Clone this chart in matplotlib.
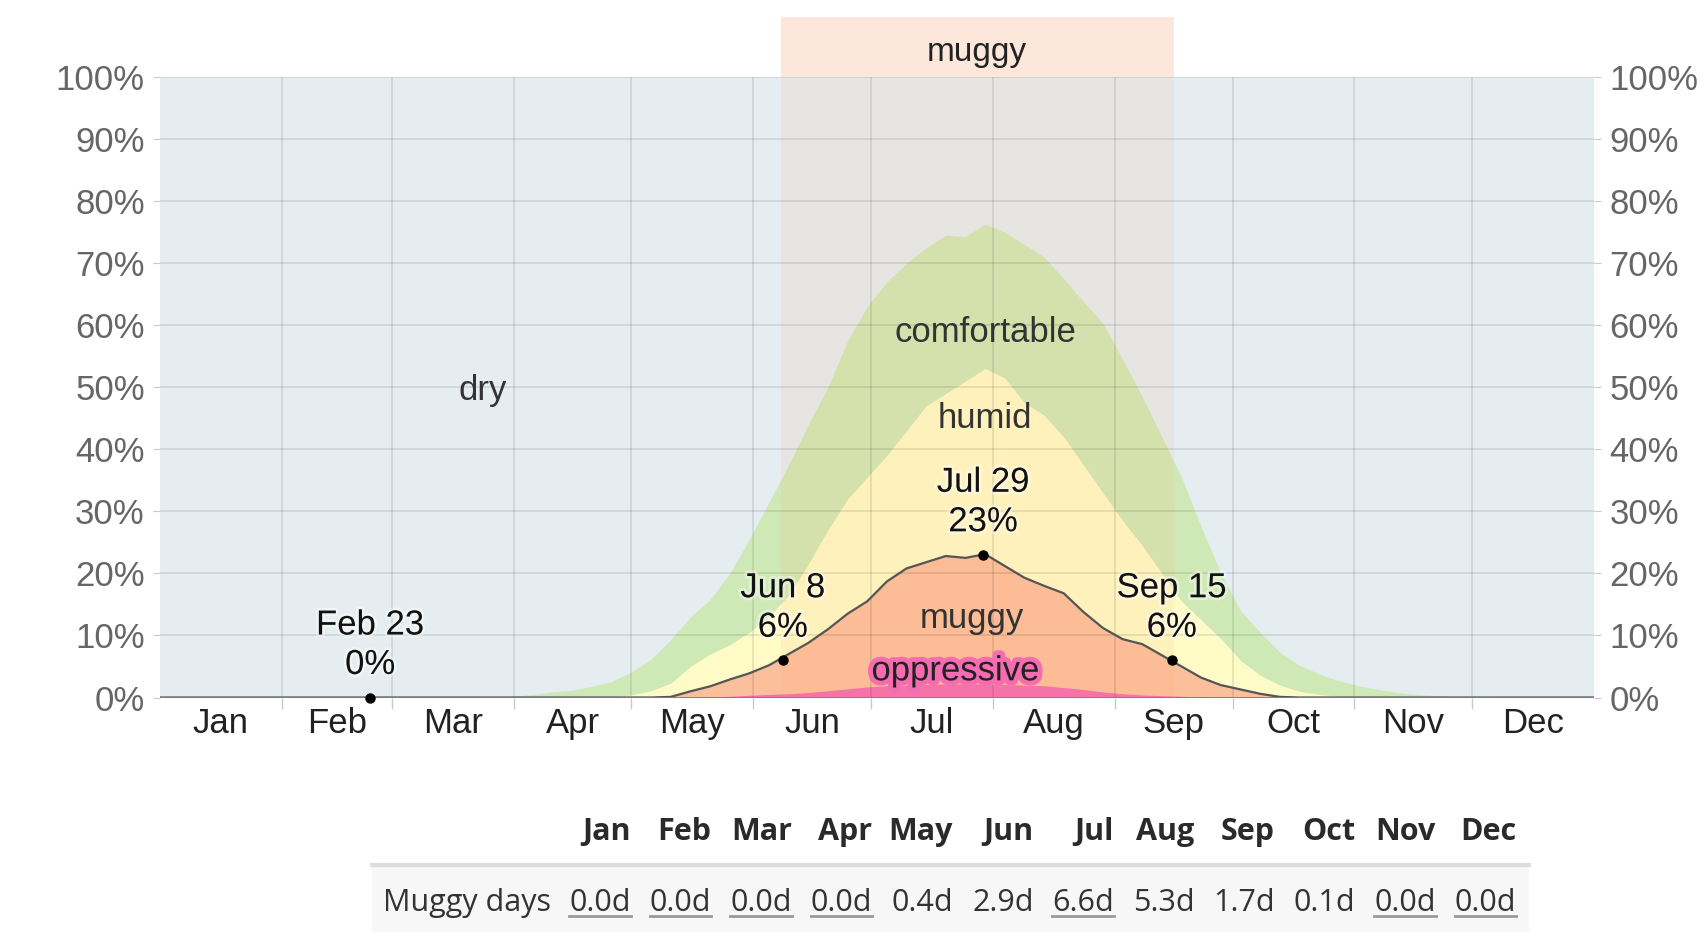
import numpy as np
import matplotlib.pyplot as plt
import matplotlib.patheffects as pe
from matplotlib.lines import Line2D
from matplotlib.patches import Rectangle

# months and lengths (non-leap year, day 0 = Jan 1)
months = ["Jan", "Feb", "Mar", "Apr", "May", "Jun",
          "Jul", "Aug", "Sep", "Oct", "Nov", "Dec"]
month_len = [31, 28, 31, 30, 31, 30, 31, 31, 30, 31, 30, 31]

# day of year where each reading was taken
days = [0, 31, 59, 80, 85, 90, 95, 100, 105, 110, 115, 120, 125, 130, 135,
        140, 145, 150, 155, 160, 165, 170, 175, 180, 185, 190, 195, 200, 205,
        210, 215, 220, 225, 230, 235, 240, 245, 250, 255, 260, 265, 270, 275,
        280, 285, 290, 295, 300, 305, 310, 315, 320, 325, 330, 340, 365]

# cumulative percentages (top of each band)
comfortable_top = [0, 0, 0, 0, 0.1, 0.2, 0.5, 0.9, 1.2, 1.8, 2.6, 4.1, 6.2,
                   9.3, 13, 15.8, 20, 25.5, 31.5, 37.5, 44, 50, 57.5, 63,
                   67, 70, 72.5, 74.5, 74.3, 76.3, 75, 73, 71, 67.5, 63.8,
                   60.3, 54.5, 48.5, 42, 35.5, 27.5, 20, 14, 10.5, 7.3, 5.2,
                   3.8, 2.7, 1.9, 1.3, 0.8, 0.5, 0.3, 0.1, 0, 0]
humid_top = [0, 0, 0, 0, 0, 0, 0, 0, 0, 0, 0.1, 0.4, 1.1, 2.3, 5, 7, 8.5,
             10.5, 13, 16.5, 21.5, 27, 32, 35.5, 39, 43, 47, 49, 51, 53, 51.5,
             47.5, 45.5, 42, 37.5, 33, 28.5, 24.5, 20, 15.5, 12.5, 9.5, 6,
             3.6, 2, 1, 0.5, 0.2, 0, 0, 0, 0, 0, 0, 0, 0]
muggy_top = [0, 0, 0, 0, 0, 0, 0, 0, 0, 0, 0, 0, 0, 0.1, 1, 1.8, 2.9, 3.9,
             5.2, 7, 8.8, 11, 13.5, 15.5, 18.7, 20.8, 21.8, 22.8, 22.5, 23.1,
             21.2, 19.3, 18, 16.8, 13.8, 11.2, 9.4, 8.6, 6.8, 5, 3.2, 2, 1.3,
             0.6, 0.1, 0, 0, 0, 0, 0, 0, 0, 0, 0, 0, 0]
oppressive_top = [0, 0, 0, 0, 0, 0, 0, 0, 0, 0, 0, 0, 0, 0, 0.05, 0.1, 0.2,
                  0.35, 0.5, 0.6, 0.8, 1.1, 1.4, 1.7, 1.9, 2, 2.1, 2.2, 2.2,
                  2.2, 2.1, 2, 1.9, 1.6, 1.3, 0.9, 0.6, 0.4, 0.3, 0.2, 0.1, 0,
                  0, 0, 0, 0, 0, 0, 0, 0, 0, 0, 0, 0, 0, 0]

# highlighted dates on the muggy curve
ann_days = [53, 158, 209, 257]
ann_labels = ["Feb 23", "Jun 8", "Jul 29", "Sep 15"]
ann_vals = [0, 6, 23, 6]

# muggy season band (Jun 8 .. Sep 15)
season_start, season_end = 158, 258

# table below the chart
muggy_days = [0.0, 0.0, 0.0, 0.0, 0.4, 2.9, 6.6, 5.3, 1.7, 0.1, 0.0, 0.0]
underlined = [True, True, True, True, False, False, True, False, False, False,
              True, True]

chart_font = "Liberation Sans"
table_font = "Open Sans"
plt.rcParams["font.family"] = chart_font

fig = plt.figure(figsize=(17.06, 9.32), dpi=100)
ax = fig.add_axes([0.0938, 0.2516, 0.8406, 0.6658])
ax.set_facecolor("#e5edf0")

ax.fill_between(days, 0, comfortable_top, color="#cfe9b6", lw=0, zorder=1)
ax.fill_between(days, 0, humid_top, color="#fefbc6", lw=0, zorder=1)
ax.fill_between(days, 0, muggy_top, color="#fbbf9c", lw=0, zorder=1)
ax.fill_between(days, 0, oppressive_top, color="#f56cb0", lw=0, zorder=1)
ax.plot(days, muggy_top, color="#555555", lw=1.6, zorder=3)

# season overlay inside the plot and its header above
ax.axvspan(season_start, season_end, color=(1.0, 0.667, 0.43), alpha=0.115,
           lw=0, zorder=1.5)
ax.add_patch(Rectangle((season_start, 100), season_end - season_start, 9.7,
                       color="#fde6da", lw=0, clip_on=False, zorder=0))
ax.text((season_start + season_end) / 2, 104.0, "muggy", ha="center",
        va="center", fontsize=24, color="#222222", clip_on=False)

# axes, ticks, grid
bounds = np.cumsum([0] + month_len)
ax.set_xlim(0, 365)
ax.set_ylim(0, 100)
ax.set_xticks(bounds[1:-1])
ax.set_xticklabels([])
ax.set_xticks(bounds[:-1] + np.array(month_len) / 2, minor=True)
ax.set_xticklabels(months, minor=True)
ax.tick_params(axis="x", which="major", length=8, color="#c5ccd0", width=1)
ax.tick_params(axis="x", which="minor", length=0, pad=7, labelsize=25,
               labelcolor="#222222")
ax.set_yticks(range(0, 101, 10))
ax.set_yticklabels([f"{v}%" for v in range(0, 101, 10)])
ax.tick_params(axis="y", length=5, color="#c5ccd0", pad=6, labelsize=25,
               labelcolor="#666666", right=True, labelright=True)
ax.grid(True, which="major", color="#000000", alpha=0.1, lw=1.2)
ax.set_axisbelow(False)
for s in ax.spines.values():
    s.set_visible(False)
ax.axhline(0, color="#808080", lw=2, zorder=4)

# category labels
ax.text(82, 49.5, "dry", ha="center", va="center", fontsize=25,
        color="#333333")
ax.text(210, 58.8, "comfortable", ha="center", va="center", fontsize=25,
        color="#333333")
ax.text(210, 45, "humid", ha="center", va="center", fontsize=25,
        color="#333333")
ax.text(206.5, 12.8, "muggy", ha="center", va="center", fontsize=25,
        color="#333333")
ax.text(202.5, 4.3, "oppressive", ha="center", va="center", fontsize=25,
        color="#222222", zorder=5,
        path_effects=[pe.withStroke(linewidth=7, foreground="#f56cb0")])

# annotated points
for d, lab, v in zip(ann_days, ann_labels, ann_vals):
    x = d + 0.5
    ax.plot(x, v, "o", color="black", ms=6.5, zorder=6, clip_on=False)
    ax.annotate(f"{lab}\n{v}%", (x, v), xytext=(0, 38),
                textcoords="offset points", ha="center", va="center",
                fontsize=25, color="#111111", linespacing=1.25, zorder=6,
                path_effects=[pe.withStroke(linewidth=4, foreground="white",
                                            alpha=0.4)])

# table below the chart
col_right = [631 + 80.5 * i for i in range(12)]
fig.patches.append(Rectangle((372 / 1706, 0), (1529 - 372) / 1706,
                             1 - 866 / 932, transform=fig.transFigure,
                             color="#f7f7f7", lw=0, zorder=0))
fig.add_artist(Line2D([372 / 1706, 1529 / 1706], [1 - 865 / 932] * 2,
                      color="#dddddd", lw=3))
fig.text(383 / 1706, 1 - 903 / 932, "Muggy days", ha="left", va="center",
         fontsize=22, family=table_font, color="#333333")
cells = []
for i in range(12):
    fig.text(col_right[i] / 1706, 1 - 832 / 932, months[i], ha="right",
             va="center", fontsize=22, family=table_font,
             fontweight="bold", color="#2a2a2a")
    t = fig.text(col_right[i] / 1706, 1 - 903 / 932, f"{muggy_days[i]:.1f}d",
                 ha="right", va="center", fontsize=22, family=table_font,
                 color="#333333")
    cells.append(t)

fig.canvas.draw()
renderer = fig.canvas.get_renderer()
inv = fig.transFigure.inverted()
for t, u in zip(cells, underlined):
    if not u:
        continue
    bb = t.get_window_extent(renderer).transformed(inv)
    fig.add_artist(Line2D([bb.x0, bb.x1], [bb.y0 + 0.002] * 2,
                          color="#9a9a9a", lw=2))

fig.savefig("out.png", dpi=100)
